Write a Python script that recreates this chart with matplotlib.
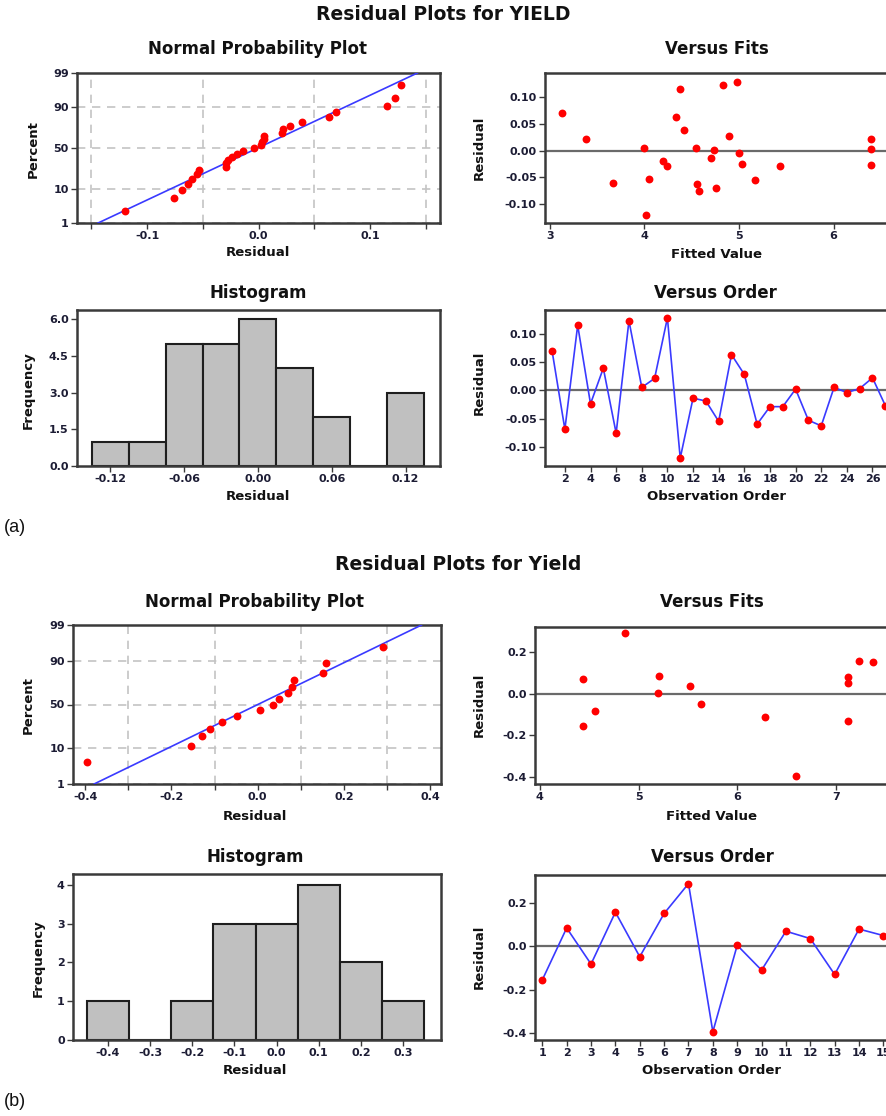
import numpy as np
import matplotlib
matplotlib.use('Agg')
import matplotlib.pyplot as plt
import matplotlib.transforms as mtransforms
from statistics import NormalDist

W, H = 886, 1116

# (a) YIELD: 27 runs, residuals and fitted values in observation order
order_a = np.arange(1, 28)
resid_a = [0.070, -0.069, 0.115, -0.024, 0.039, -0.076, 0.123, 0.005, 0.021,
           0.128, -0.120, -0.014, -0.019, -0.055, 0.063, 0.028, -0.060, -0.029,
           -0.029, 0.002, -0.053, -0.063, 0.005, -0.004, 0.003, 0.022, -0.027]
fits_a = [3.13, 4.76, 4.38, 5.03, 4.42, 4.58, 4.83, 4.00, 3.38,
          4.98, 4.02, 4.71, 4.20, 5.17, 4.34, 4.90, 3.67, 4.24,
          5.43, 4.74, 4.05, 4.56, 4.55, 5.00, 6.40, 6.40, 6.40]

# (b) Yield: 15 runs
order_b = np.arange(1, 16)
resid_b = [-0.155, 0.085, -0.082, 0.158, -0.048, 0.152, 0.290, -0.395,
           0.005, -0.110, 0.070, 0.036, -0.130, 0.080, 0.050]
fits_b = [4.44, 5.21, 4.56, 7.24, 5.63, 7.38, 4.86, 6.60,
          5.20, 6.28, 4.44, 5.52, 7.12, 7.12, 7.12]

plt.rcParams['font.family'] = 'DejaVu Sans'
plt.rcParams['axes.unicode_minus'] = False

fig = plt.figure(figsize=(W / 100, H / 100), dpi=100)
px = mtransforms.Affine2D().scale(1 / W, -1 / H).translate(0, 1) + fig.transFigure

FRAME = '#3a3a3a'
TICKC = '#1c1c34'
BLUE = '#3a3aff'


def fmt_num(fmt, v):
    s = fmt % v
    return s[1:] if s.startswith('-') and float(s) == 0 else s


def add_ax(l, t, r, b):
    ax = fig.add_axes([l / W, 1 - b / H, (r - l) / W, (b - t) / H])
    for s in ax.spines.values():
        s.set_linewidth(1.8)
        s.set_color(FRAME)
    ax.tick_params(which='both', direction='out', length=4, width=1, color=FRAME,
                   labelsize=8, labelcolor=TICKC, pad=2)
    return ax


def title(x, y, s, size=12):
    fig.text(x, y, s, transform=px, ha='center', va='center',
             fontsize=size, fontweight='bold', color='#111111')


def labels(ax, xl, xpos, yl, ypos):
    ax.set_xlabel(xl, fontsize=9.5, fontweight='bold', color='#111111')
    ax.set_ylabel(yl, fontsize=9.5, fontweight='bold', color='#111111')
    ax.xaxis.set_label_coords(*xpos, transform=px)
    ax.yaxis.set_label_coords(*ypos, transform=px)
    ax.xaxis.label.set_va('center')
    ax.yaxis.label.set_va('center')


def bold_ticks(ax):
    for lab in ax.get_xticklabels() + ax.get_yticklabels():
        lab.set_fontweight('bold')


_nd = NormalDist()
_ppf = np.vectorize(_nd.inv_cdf, otypes=[float])
_cdf = np.vectorize(_nd.cdf, otypes=[float])


def prob_fwd(p):
    p = np.clip(np.asarray(p, dtype=float) / 100.0, 1e-9, 1 - 1e-9)
    return _ppf(p)


def prob_inv(z):
    return _cdf(np.asarray(z, dtype=float)) * 100.0


def normal_plot(ax, resid, xlim, xmajor, xgrid, fmt):
    r = np.sort(np.asarray(resid))
    n = len(r)
    pct = (np.arange(1, n + 1) - 0.3) / (n + 0.4) * 100
    mu, sd = r.mean(), r.std(ddof=1)
    ax.set_yscale('function', functions=(prob_fwd, prob_inv))
    ax.set_ylim(1, 99)
    ax.set_yticks([1, 10, 50, 90, 99])
    ax.set_yticklabels(['1', '10', '50', '90', '99'])
    ax.set_xlim(*xlim)
    ax.set_xticks(xmajor)
    ax.set_xticklabels([fmt_num(fmt, v) for v in xmajor])
    ax.set_xticks(xgrid, minor=True)
    ax.grid(True, which='minor', axis='x', ls=(0, (5, 4)), color='#c4c4c4', lw=1.2)
    ax.grid(True, which='major', axis='y', ls=(0, (5, 4)), color='#c4c4c4', lw=1.2)
    ax.tick_params(axis='y', which='minor', length=0)
    zl = np.array([_nd.inv_cdf(0.01), _nd.inv_cdf(0.99)])
    ax.plot(mu + sd * zl, [1, 99], color=BLUE, lw=1.2, zorder=3)
    ax.scatter(r, pct, s=32, color='#ff0000', zorder=4, linewidths=0)
    bold_ticks(ax)


def fits_plot(ax, fits, resid, xlim, xticks, ylim, yticks, fmt):
    ax.axhline(0, color='#6a6a6a', lw=1.6, zorder=1)
    ax.scatter(fits, resid, s=32, color='#ff0000', zorder=3, linewidths=0)
    ax.set_xlim(*xlim)
    ax.set_ylim(*ylim)
    ax.set_xticks(xticks)
    ax.set_yticks(yticks)
    ax.set_yticklabels([fmt_num(fmt, v) for v in yticks])
    bold_ticks(ax)


def order_plot(ax, order, resid, xlim, xticks, ylim, yticks, fmt):
    ax.axhline(0, color='#6a6a6a', lw=1.6, zorder=1)
    ax.plot(order, resid, color=BLUE, lw=1.2, zorder=2)
    ax.scatter(order, resid, s=32, color='#ff0000', zorder=3, linewidths=0)
    ax.set_xlim(*xlim)
    ax.set_ylim(*ylim)
    ax.set_xticks(xticks)
    ax.set_yticks(yticks)
    ax.set_yticklabels([fmt_num(fmt, v) for v in yticks])
    bold_ticks(ax)


def hist_plot(ax, resid, edges, xlim, xticks, xfmt, ylim, yticks, yfmt):
    ax.hist(resid, bins=edges, color='#c0c0c0', edgecolor='#1e1e1e', lw=1.5)
    ax.set_xlim(*xlim)
    ax.set_ylim(*ylim)
    ax.set_xticks(xticks)
    ax.set_xticklabels([fmt_num(xfmt, v) for v in xticks])
    ax.set_yticks(yticks)
    ax.set_yticklabels([fmt_num(yfmt, v) for v in yticks])
    bold_ticks(ax)


# ---------------- (a) ----------------
title(443, 15, 'Residual Plots for YIELD', 13.5)

ax = add_ax(77, 73, 440, 223)
normal_plot(ax, resid_a, (-0.163, 0.163), [-0.1, 0.0, 0.1],
            [-0.15, -0.1, -0.05, 0.0, 0.05, 0.1, 0.15], '%.1f')
title(258, 49, 'Normal Probability Plot')
labels(ax, 'Residual', (258, 253), 'Percent', (33, 149))

ax = add_ax(545, 73, 895, 223)
fits_plot(ax, fits_a, resid_a, (2.95, 6.65), [3, 4, 5, 6], (-0.135, 0.145),
          [-0.10, -0.05, 0.0, 0.05, 0.10], '%.2f')
title(717, 49, 'Versus Fits')
labels(ax, 'Fitted Value', (717, 254), 'Residual', (479, 148))

ax = add_ax(77, 310, 440, 466)
hist_plot(ax, resid_a, np.linspace(-0.135, 0.135, 10), (-0.147, 0.148),
          [-0.12, -0.06, 0.0, 0.06, 0.12], '%.2f', (0, 6.37),
          [0, 1.5, 3.0, 4.5, 6.0], '%.1f')
title(258, 293, 'Histogram')
labels(ax, 'Residual', (258, 497), 'Frequency', (28, 390))

ax = add_ax(545, 310, 893, 466)
order_plot(ax, order_a, resid_a, (0.45, 27.6), np.arange(2, 27, 2),
           (-0.134, 0.142), [-0.10, -0.05, 0.0, 0.05, 0.10], '%.2f')
title(715, 293, 'Versus Order')
labels(ax, 'Observation Order', (717, 497), 'Residual', (479, 383))

fig.text(4, 527, '(a)', transform=px, ha='left', va='center', fontsize=13,
         family='Liberation Sans', color='#111111')

# ---------------- (b) ----------------
title(458, 565, 'Residual Plots for Yield', 13.5)

ax = add_ax(73, 625, 441, 784)
normal_plot(ax, resid_b, (-0.428, 0.425), [-0.4, -0.2, 0.0, 0.2, 0.4],
            [-0.4, -0.3, -0.2, -0.1, 0.0, 0.1, 0.2, 0.3, 0.4], '%.1f')
title(255, 602, 'Normal Probability Plot')
labels(ax, 'Residual', (255, 817), 'Percent', (28, 705))

ax = add_ax(535, 627, 895, 784)
fits_plot(ax, fits_b, resid_b, (3.95, 7.6), [4, 5, 6, 7], (-0.434, 0.32),
          [-0.4, -0.2, 0.0, 0.2], '%.1f')
title(712, 602, 'Versus Fits')
labels(ax, 'Fitted Value', (712, 817), 'Residual', (479, 705))

ax = add_ax(73, 874, 441, 1040)
hist_plot(ax, resid_b, np.linspace(-0.45, 0.35, 9), (-0.483, 0.39),
          [-0.4, -0.3, -0.2, -0.1, 0.0, 0.1, 0.2, 0.3], '%.1f', (0, 4.28),
          [0, 1, 2, 3, 4], '%d')
title(255, 857, 'Histogram')
labels(ax, 'Residual', (255, 1070), 'Frequency', (38, 958))

ax = add_ax(535, 875, 898, 1040)
order_plot(ax, order_b, resid_b, (0.7, 15.6), np.arange(1, 16),
           (-0.433, 0.33), [-0.4, -0.2, 0.0, 0.2], '%.1f')
title(712, 857, 'Versus Order')
labels(ax, 'Observation Order', (712, 1070), 'Residual', (479, 957))

fig.text(4, 1102, '(b)', transform=px, ha='left', va='center', fontsize=13,
         family='Liberation Sans', color='#111111')

fig.savefig('out.png', dpi=100, facecolor='white')
